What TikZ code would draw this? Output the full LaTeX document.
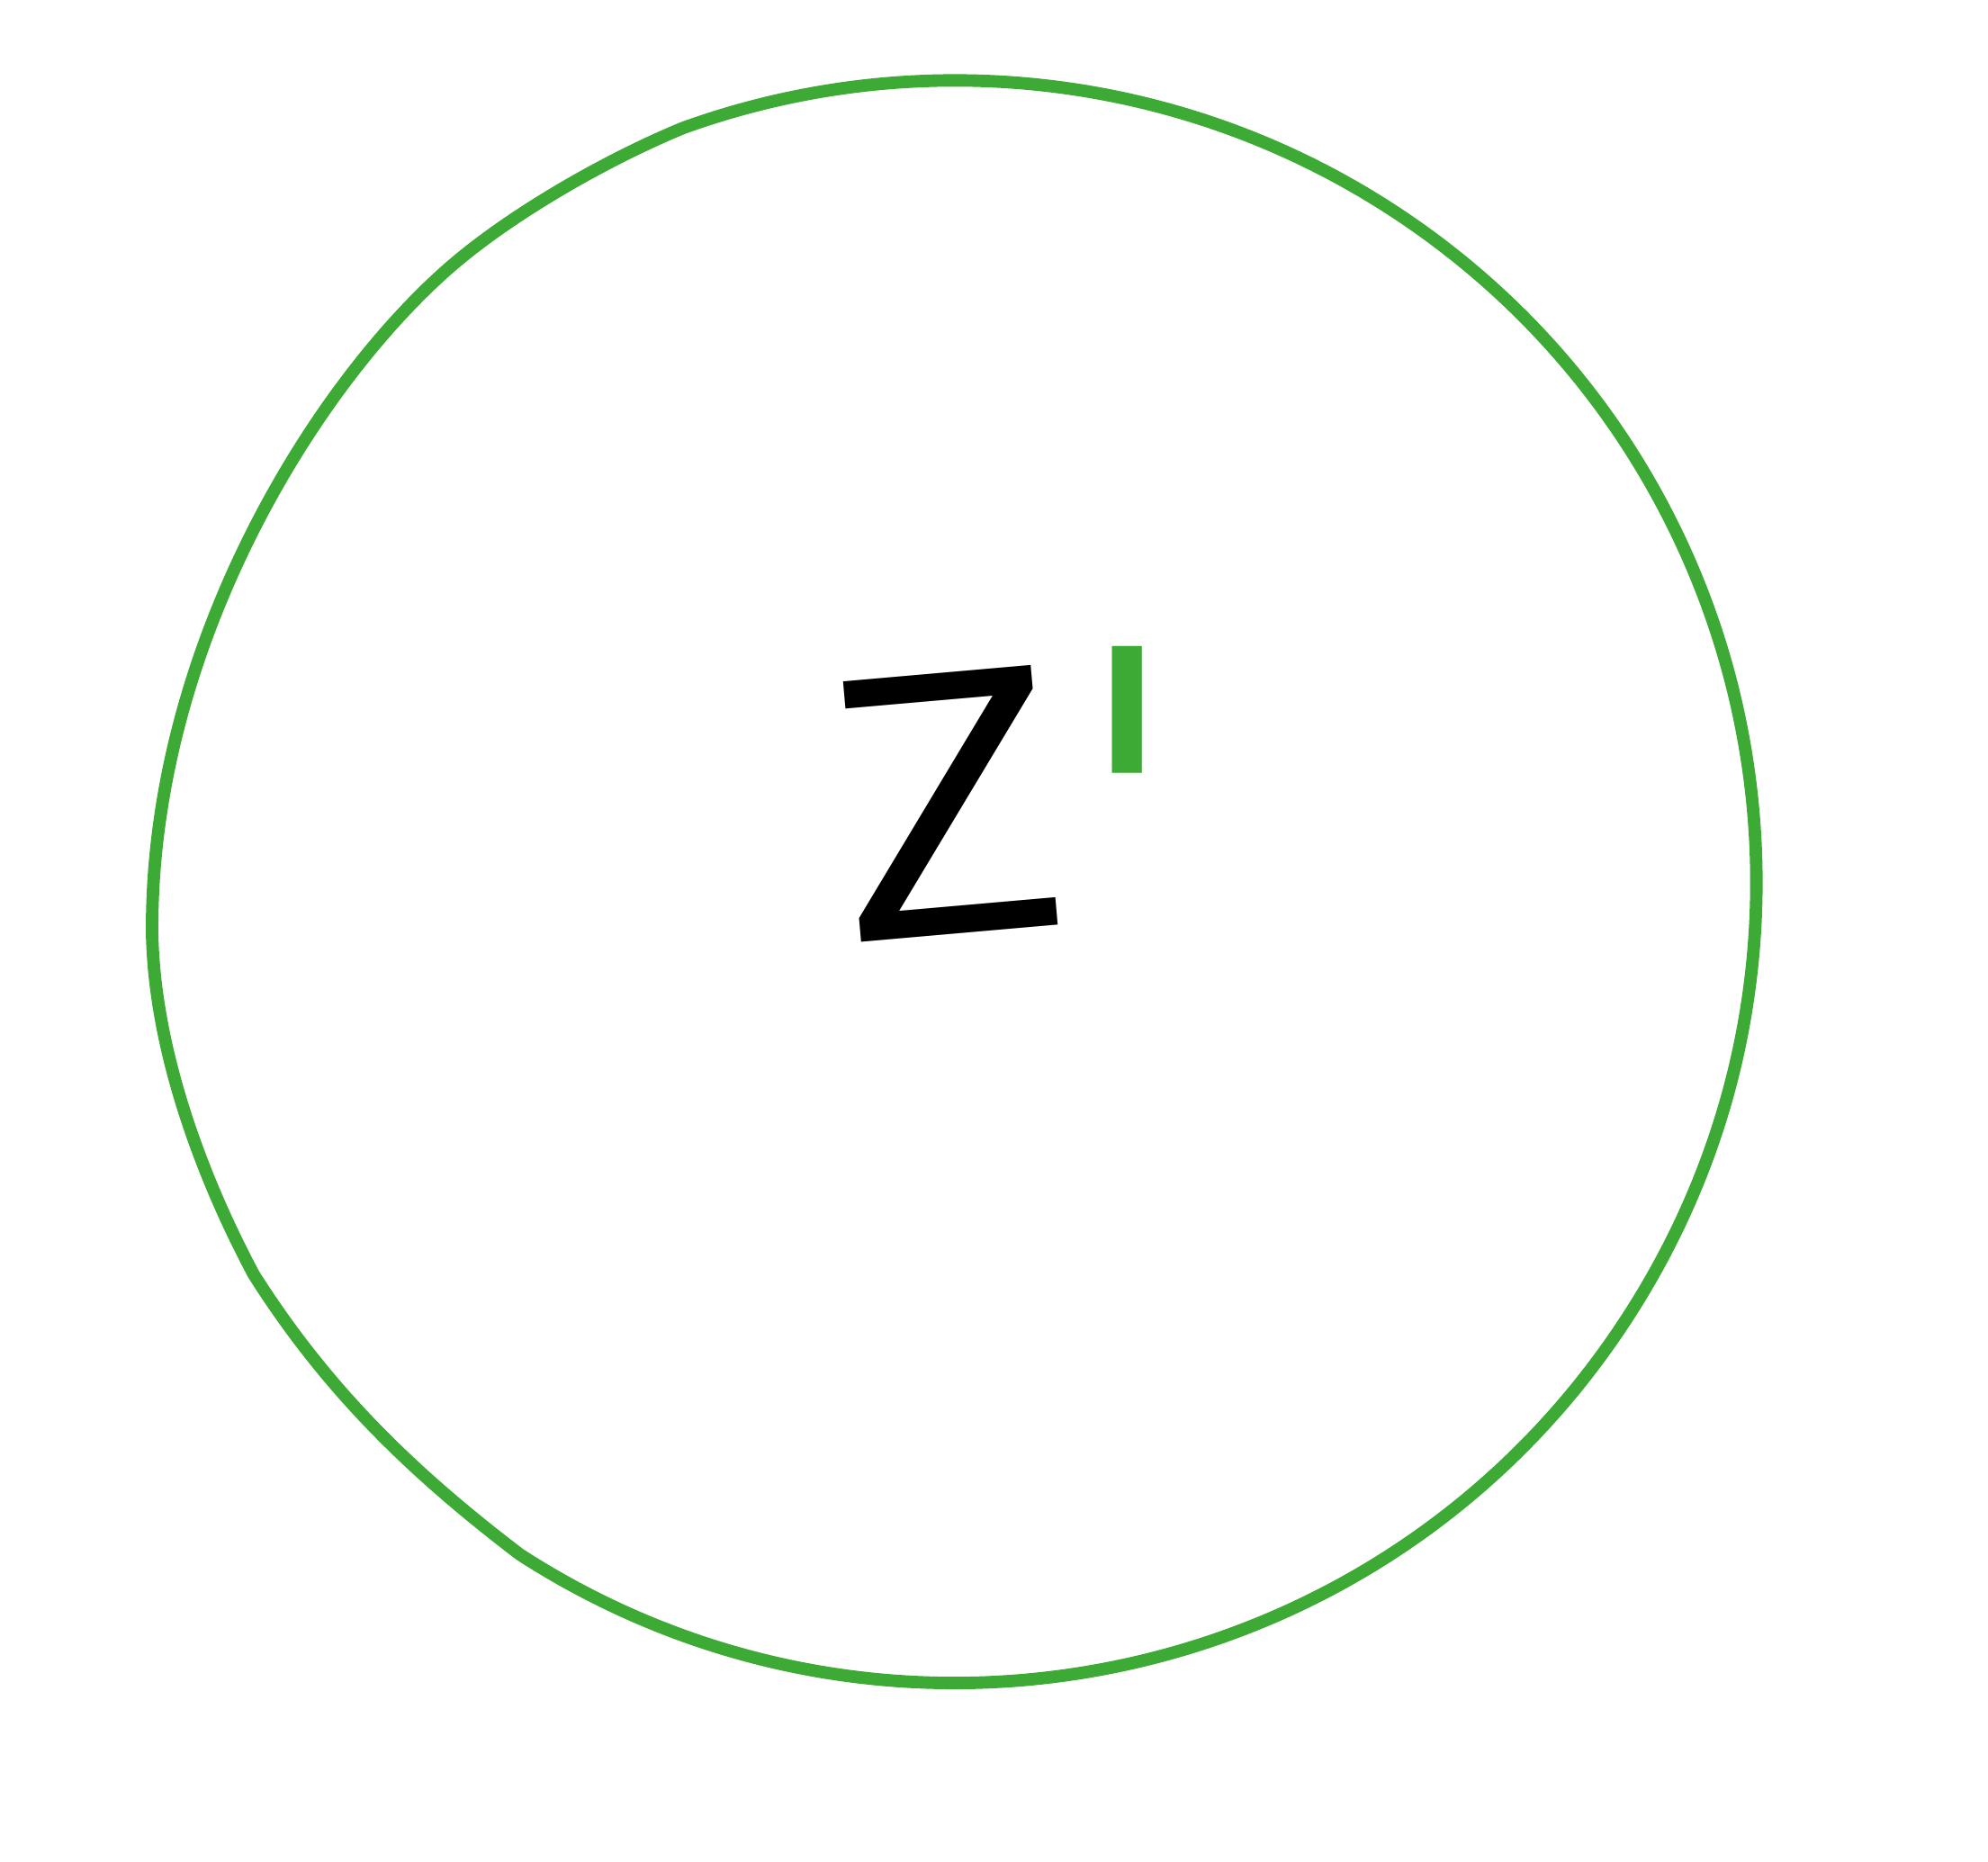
\documentclass[tikz,border=0pt]{standalone}
\usepackage{fontspec}
\setmainfont{Open Sans}
\newfontfamily\primefont{DejaVu Sans}
\usepackage{tikz}
\definecolor{zgreen}{RGB}{60,170,53}

\begin{document}
\begin{tikzpicture}
	[x=0.01cm, y=-0.01cm,
	every node/.style={inner sep=0pt, outer sep=0pt},
	blob/.style={draw=zgreen, line width=2.8pt, line join=round},
	letter/.style={font=\fontsize{82}{82}\selectfont, text=black},
	primemark/.style={font=\primefont\fontsize{105}{105}\selectfont, text=zgreen}]
	\path (0,0) rectangle (1568,1468);
	% the wobbly ring
	\draw[blob] (410,1226) arc[start angle=122.9, end angle=-109.8, radius=632]
		.. controls (480,125) and (400,170) .. (350,215)
		.. controls (240,314) and (118,520) .. (120,737)
		.. controls (122,830) and (160,930) .. (200,1005)
		.. controls (260,1100) and (330,1165) .. cycle;
	% label
	\node[letter, rotate=5, xscale=1.1] (zee) at (748,634) {Z};
	\node[primemark, anchor=north, xscale=0.77] (prime) at (889,510) {\textquotesingle};
\end{tikzpicture}
\end{document}
